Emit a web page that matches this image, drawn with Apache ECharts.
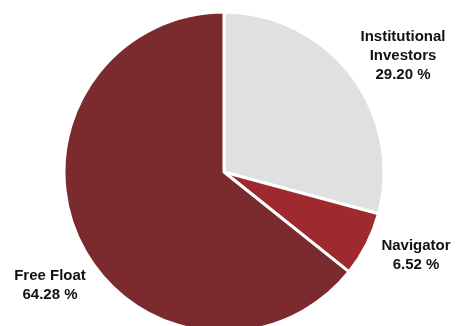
<!DOCTYPE html>
<html>
<head>
<meta charset="utf-8">
<script src="https://cdn.jsdelivr.net/npm/echarts@6/dist/echarts.min.js"></script>
<style>
  html, body { margin: 0; padding: 0; background: #fff; }
  #chart { width: 458px; height: 326px; }
</style>
</head>
<body>
<div id="chart"></div>
<script>
const names = ['Institutional\nInvestors', 'Navigator', 'Free Float'];
const shares = [29.20, 6.52, 64.28];
const colors = ['#e0e0e0', '#9e2a2f', '#7b2a2e'];

// label anchor points (centre of text block)
const labelPos = [[403, 56], [416, 255], [50, 285]];

const chart = echarts.init(document.getElementById('chart'));
chart.setOption({
  animation: false,
  series: [{
    type: 'pie',
    center: [224, 172],
    radius: [0, 160],
    startAngle: 90,
    clockwise: true,
    data: names.map((n, i) => ({ name: n, value: shares[i], itemStyle: { color: colors[i] } })),
    itemStyle: { borderColor: '#fff', borderWidth: 3 },
    label: {
      show: true,
      position: 'outside',
      formatter: p => p.name + '\n' + p.value.toFixed(2) + ' %',
      fontFamily: 'Liberation Sans, Arial, sans-serif',
      fontWeight: 'bold',
      fontSize: 15,
      lineHeight: 19,
      color: '#111',
      align: 'center',
      overflow: 'none',
      width: 120
    },
    labelLine: { show: false },
    labelLayout: p => ({
      x: labelPos[p.dataIndex][0],
      y: labelPos[p.dataIndex][1],
      align: 'center',
      verticalAlign: 'middle'
    }),
    emphasis: { disabled: true }
  }]
});
</script>
</body>
</html>
